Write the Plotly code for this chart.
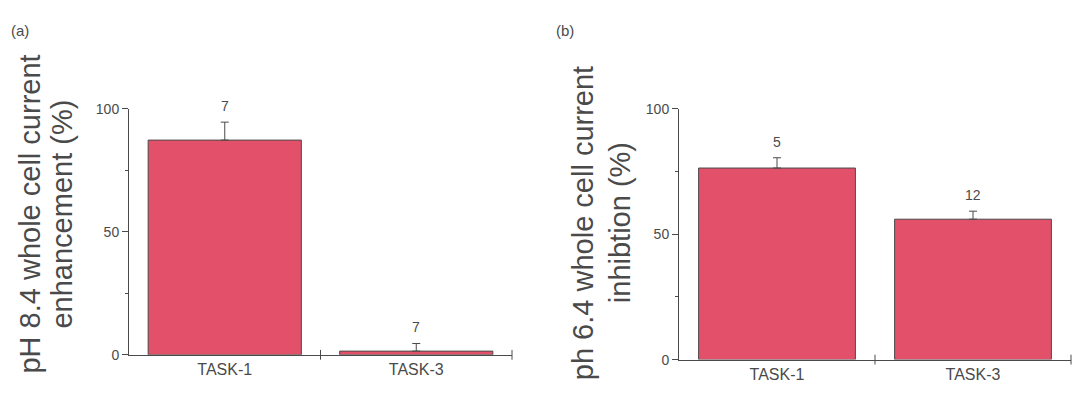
import plotly.graph_objects as go

# Panel (a): pH 8.4 enhancement
cats_a = ["TASK-1", "TASK-3"]
mean_a = [87.3, 1.5]
sem_a = [7.3, 3.1]
n_a = [7, 7]

# Panel (b): pH 6.4 inhibition
cats_b = ["TASK-1", "TASK-3"]
mean_b = [76.4, 56.0]
sem_b = [4.1, 3.2]
n_b = [5, 12]

y_ticks = [0, 50, 100]
y_minor = [25, 75]

BAR = "rgb(226,80,106)"
INK = "#4a4a4a"
FONT = "Arial, Liberation Sans, sans-serif"
W, H = 1072, 407

fig = go.Figure()


def add_panel(cats, means, sems, ns, xa, ya):
    xs = list(range(1, len(cats) + 1))
    fig.add_trace(go.Bar(
        x=xs, y=means, width=0.8, xaxis=xa, yaxis=ya,
        marker=dict(color=BAR, line=dict(color=INK, width=1)),
        error_y=dict(type="data", array=sems, arrayminus=[0] * len(sems),
                     symmetric=False, width=4, thickness=1, color=INK),
        showlegend=False, hoverinfo="skip",
    ))
    # category boundary ticks crossing the x axis
    bounds = [x + 0.5 for x in xs]
    fig.add_trace(go.Scatter(
        x=bounds, y=[0] * len(bounds), xaxis=xa, yaxis=ya, mode="markers",
        marker=dict(symbol="line-ns-open", size=7, color=INK,
                    line=dict(color=INK, width=1)),
        cliponaxis=False, showlegend=False, hoverinfo="skip",
    ))
    for x, m, s, n in zip(xs, means, sems, ns):
        fig.add_annotation(
            x=x, y=m + s, xref=xa, yref=ya, text=str(n), showarrow=False,
            yanchor="middle", yshift=16, font=dict(family=FONT, size=14, color=INK),
        )
    return xs


xs_a = add_panel(cats_a, mean_a, sem_a, n_a, "x", "y")
xs_b = add_panel(cats_b, mean_b, sem_b, n_b, "x2", "y2")

xaxis_common = dict(
    range=[0.5, 2.5], showline=True, linecolor=INK, linewidth=1,
    ticks="", showgrid=False, zeroline=False,
    tickfont=dict(family=FONT, size=16, color=INK),
)
yaxis_common = dict(
    range=[0, 100], showline=True, linecolor=INK, linewidth=1,
    tickvals=y_ticks, ticks="outside", ticklen=6, tickcolor=INK,
    minor=dict(tickvals=y_minor, ticks="outside", ticklen=3, tickcolor=INK),
    showgrid=False, zeroline=False,
    tickfont=dict(family=FONT, size=14, color=INK),
)

fig.update_layout(
    width=W, height=H, margin=dict(l=0, r=0, t=0, b=0),
    paper_bgcolor="white", plot_bgcolor="white", bargap=0.2,
    xaxis=dict(domain=[129 / W, 512 / W], anchor="y",
               tickvals=xs_a, ticktext=cats_a, **xaxis_common),
    yaxis=dict(domain=[(H - 361) / H, (H - 105) / H], anchor="x", **yaxis_common),
    xaxis2=dict(domain=[679 / W, 1071 / W], anchor="y2",
                tickvals=xs_b, ticktext=cats_b, **xaxis_common),
    yaxis2=dict(domain=[(H - 366) / H, (H - 105) / H], anchor="x2", **yaxis_common),
)

title_font = dict(family=FONT, size=29, color=INK)
# y-axis titles, one annotation per line
for text, x, y in [
    ("pH 8.4 whole cell current", 30, 215),
    ("enhancement (%)", 62, 215),
    ("ph 6.4 whole cell current", 583, 224),
    ("inhibtion (%)", 620, 224),
]:
    fig.add_annotation(
        x=x / W, y=(H - y) / H, xref="paper", yref="paper", text=text,
        textangle=-90, showarrow=False, xanchor="center", yanchor="middle",
        font=title_font,
    )

# panel letters
for text, x in [("(a)", 20), ("(b)", 565)]:
    fig.add_annotation(
        x=x / W, y=(H - 23) / H, xref="paper", yref="paper", text=text,
        showarrow=False, xanchor="center", yanchor="middle",
        font=dict(family=FONT, size=15, color=INK),
    )

fig.write_html("out.html")
